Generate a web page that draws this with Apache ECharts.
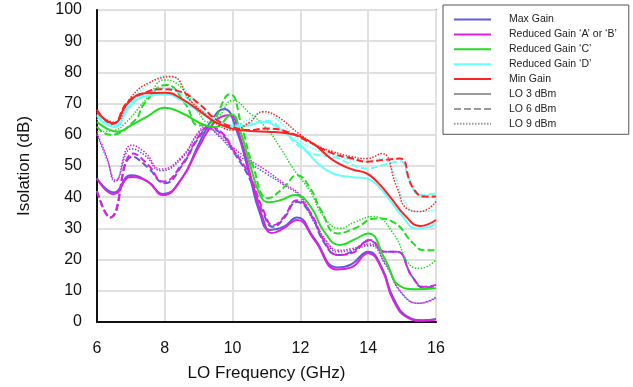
<!DOCTYPE html>
<html>
<head>
<meta charset="utf-8">
<script src="https://cdn.jsdelivr.net/npm/echarts@6/dist/echarts.min.js"></script>
<style>
  body { margin: 0; background: #fff; }
  #chart { width: 633px; height: 387px; }
</style>
</head>
<body>
<div id="chart"></div>
<script>
// [GHz, dB] points, one array per gain state and LO drive
const maxGain3 = [[6,46],[6.5,41.5],[7,47],[7.5,45],[7.95,41],[8.5,46],[9,57],[9.4,65],[9.75,68.3],[10.1,62],[10.5,47],[10.8,35],[11.1,29.5],[11.5,30.5],[11.9,33.5],[12.4,27],[13.1,17.5],[13.5,18.5],[14,22.5],[14.4,17.5],[14.75,7.5],[15.2,1.5],[15.6,0.6],[16,1]];
const maxGain6 = [[6,42],[6.4,33.5],[7.05,53],[7.5,49.5],[8,44.5],[8.5,50],[9,59],[9.3,62],[9.7,60],[10,55],[10.5,46],[10.9,35],[11.2,30.5],[11.5,33],[11.9,38.5],[12.3,34.5],[12.7,25.5],[13.1,21.5],[13.5,22.5],[14.05,26],[14.5,22.5],[14.85,22.5],[15.3,14.5],[15.65,11],[16,11.5]];
const maxGain9 = [[6,60],[6.3,52],[6.55,45.5],[7.02,55.5],[7.4,53.5],[7.9,48.5],[8.5,52.5],[9,60.5],[9.25,62],[9.6,59.5],[10,55],[10.5,51],[11,47.5],[11.5,44],[12,40],[12.4,32],[12.8,25],[13.1,22.5],[13.5,23],[14.05,24.5],[14.5,18.5],[15,9],[15.5,6],[16,8]];

const gainAB3 = [[6,46],[6.5,41],[7,46.5],[7.5,45],[7.95,40.7],[8.5,46],[9,56],[9.5,64.5],[9.9,66.3],[10.2,60],[10.6,44],[10.9,33],[11.15,28.5],[11.5,30],[11.9,32.7],[12.4,26.5],[13.1,16.8],[13.5,17.5],[14,22],[14.4,17],[14.74,7],[15.2,1.2],[15.6,0.4],[16,0.8]];
const gainAB6 = [[6,42],[6.38,33.5],[7.07,54],[7.5,50.5],[7.96,45],[8.5,50.5],[9,59.5],[9.3,62.5],[9.7,60.5],[10,55.5],[10.5,47],[10.9,36],[11.2,31],[11.5,33.5],[11.9,39],[12.3,35],[12.7,26],[13.1,21.5],[13.5,22],[14.05,26.3],[14.5,22.5],[14.85,22.5],[15.3,14.5],[15.65,11.3],[16,11.9]];
const gainAB9 = [[6,60.5],[6.3,52.5],[6.53,45],[7.02,56.7],[7.4,54.5],[7.9,49],[8.5,53],[9,61],[9.2,62.6],[9.6,60],[10,56],[10.5,52],[11,48.5],[11.5,44.5],[12,40.5],[12.4,32.5],[12.8,25.5],[13.1,23],[13.5,23.5],[14.05,25],[14.5,19],[15,9.2],[15.5,6],[16,7.6]];

const gainC3 = [[6,64.2],[6.6,61],[7,63],[7.5,66],[8,68.7],[8.5,67],[9.2,63],[9.5,62.5],[9.97,66.5],[10.2,62],[10.5,51],[10.8,41],[11.05,38.4],[11.4,39],[11.85,40.7],[12.3,37],[12.7,29],[13.17,24.7],[13.6,26.5],[14,28.4],[14.5,20],[14.94,11.5],[15.4,10.5],[16,10.8]];
const gainC6 = [[6,62.6],[6.38,60],[7.12,64.7],[7.4,70],[8.05,76],[8.6,70],[9,63],[9.3,63.5],[9.92,73],[10.27,62.6],[10.6,50],[11.05,39.7],[11.5,43],[11.9,47],[12.28,43],[12.6,36],[13.1,28.4],[13.6,30],[14.24,33.2],[14.74,32],[15.33,25.2],[15.63,23],[16,23]];
const gainC9 = [[6,61],[6.53,61.5],[6.83,63.7],[7.5,72],[8,77.6],[8.5,75],[9,67],[9.3,64],[9.6,66],[10,71],[10.5,67],[11,62],[11.4,56],[11.8,49],[12.28,42],[12.7,33.5],[13.17,30],[13.6,32],[14.15,33.8],[14.74,28.4],[15.23,18.3],[15.53,17.2],[16,19.9]];

const gainD3 = [[6,66],[6.5,62.5],[7,69.5],[7.5,72.5],[8,73],[8.5,71],[9,67.5],[9.5,64.5],[10,62.5],[10.5,63],[10.9,64.2],[11.3,62.5],[12,56.7],[12.5,51],[12.96,47.6],[13.5,46.5],[13.96,46],[14.3,43.5],[14.64,39],[15,34],[15.43,30],[15.8,30.5],[16,31.7]];
const gainD6 = [[6,66.5],[6.5,63],[7,70],[7.5,73.5],[8,75],[8.5,73],[9,68.5],[9.5,65],[10,63],[10.5,63.5],[11,64.5],[11.5,61],[12,56],[12.5,53.5],[12.96,53],[13.5,50.5],[13.96,49.2],[14.5,50.5],[14.94,51.5],[15.2,46],[15.53,40.7],[16,41.2]];
const gainD9 = [[6,65],[6.5,63],[7,70.5],[7.5,76],[8.1,79],[8.7,73],[9.2,67],[9.6,64],[10,63],[10.5,65],[10.9,67],[11.3,65],[12,58],[12.5,55],[12.96,53.5],[13.5,52],[13.96,51.4],[14.4,52.4],[14.7,49],[15.14,37.4],[15.53,35.4],[16,36]];

const minGain3 = [[6,67.4],[6.48,63.7],[6.9,70],[7.4,73.3],[8,73.5],[8.5,71.5],[9.19,66.3],[9.6,63.5],[10.2,61.5],[11,61],[11.6,60.5],[12.28,57.8],[12.96,51.9],[13.5,49],[13.96,47.6],[14.3,44.5],[14.64,40.2],[15.1,34],[15.53,30.8],[16,32.7]];
const minGain6 = [[6,68],[6.45,63.5],[6.9,70.5],[7.3,73],[7.9,74.6],[8.4,74],[9,70],[9.5,65],[10,62.5],[10.5,61.5],[11,62],[11.6,61],[12.2,58],[12.96,54],[13.5,52.5],[13.96,51.4],[14.5,52],[14.94,52.4],[15.3,43.4],[15.67,40.2],[16,40.2]];
const minGain9 = [[6,67],[6.5,64],[7,72],[7.5,76.5],[8.2,78.6],[8.75,71],[9.2,66.5],[9.6,63],[10,61.5],[10.5,64],[10.9,67.4],[11.3,66],[12,60],[12.5,56.5],[12.96,54.6],[13.5,53],[13.96,52.4],[14.4,54],[14.84,43.4],[15.14,36.4],[15.53,35.4],[16,38.6]];

const gainNames = ["Max Gain", "Reduced Gain \u2018A\u2019 or \u2018B\u2019", "Reduced Gain \u2018C\u2019", "Reduced Gain \u2018D\u2019", "Min Gain"];
const loNames = ["LO 3 dBm", "LO 6 dBm", "LO 9 dBm"];
const xTicks = [6, 8, 10, 12, 14, 16];

var chart = echarts.init(document.getElementById("chart"));

const colors = ["#5c5cdc", "#e020e0", "#22dd22", "#66ffff", "#ff2222"];
const dashes = ["solid", [7, 3], [1.5, 1.5]];
const widths = [2, 2, 1.5];

function line(name, color, lo, data) {
  return {
    name: name,
    type: "line",
    data: data,
    symbol: "none",
    smooth: 0.5,
    color: color,
    lineStyle: { color: color, width: widths[lo], type: dashes[lo] },
    emphasis: { disabled: true },
  };
}

const curves = [
  [maxGain3, maxGain6, maxGain9],
  [gainAB3, gainAB6, gainAB9],
  [gainC3, gainC6, gainC9],
  [gainD3, gainD6, gainD9],
  [minGain3, minGain6, minGain9],
];

const series = [];
for (let g = 0; g < curves.length; g++) {
  for (let lo = 0; lo < 3; lo++) {
    series.push(line(gainNames[g], colors[g], lo, curves[g][lo]));
  }
}
// grey entries only for the line-style part of the legend
for (let lo = 0; lo < 3; lo++) {
  series.push(line(loNames[lo], "#999999", lo, []));
}

const font = "Liberation Sans, Arial, sans-serif";

const option = {
  animation: false,
  textStyle: { fontFamily: font },
  grid: {
    left: 97,
    right: 197,
    top: 10,
    bottom: 65,
    show: true,
    borderColor: "#666",
    borderWidth: 1.5,
  },
  legend: {
    data: gainNames.concat(loNames),
    orient: "vertical",
    left: 443,
    top: 5,
    padding: [9, 12, 5, 10],
    itemWidth: 37,
    itemHeight: 8,
    itemGap: 3.9,
    borderColor: "#555",
    borderWidth: 1,
    selectedMode: false,
    itemStyle: { opacity: 0 },
    textStyle: { fontSize: 10.5, color: "#222", fontFamily: font, padding: [0, 0, 0, 13] },
  },
  xAxis: {
    type: "value",
    min: 6,
    max: 16,
    interval: 2,
    name: "LO Frequency (GHz)",
    nameLocation: "middle",
    nameGap: 43,
    nameTextStyle: { fontSize: 17, color: "#111" },
    axisLine: { lineStyle: { color: "#111", width: 2 } },
    axisTick: { show: false },
    axisLabel: {
      fontSize: 16,
      color: "#111",
      margin: 19,
      formatter: (v) => (xTicks.indexOf(v) >= 0 ? String(v) : ""),
    },
    splitLine: { lineStyle: { color: "#e0e0e0", width: 2 } },
  },
  yAxis: {
    type: "value",
    min: 0,
    max: 100,
    interval: 10,
    name: "Isolation (dB)",
    nameLocation: "middle",
    nameGap: 64,
    nameTextStyle: { fontSize: 17, color: "#111" },
    axisLine: { show: true, lineStyle: { color: "#111", width: 2 } },
    axisTick: { show: false },
    axisLabel: { fontSize: 16, color: "#111", margin: 15 },
    splitLine: { lineStyle: { color: "#e0e0e0", width: 2 } },
  },
  series: series,
};

chart.setOption(option);
</script>
</body>
</html>
